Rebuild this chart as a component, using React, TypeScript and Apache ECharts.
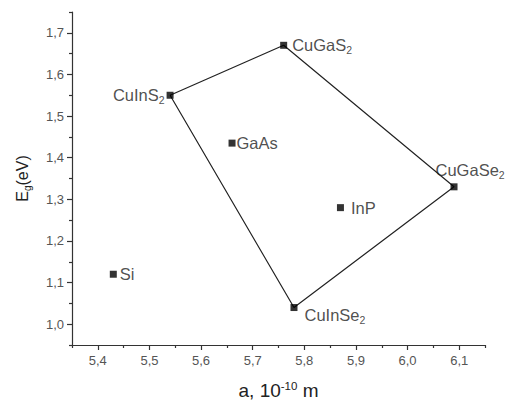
import React, { useEffect, useRef } from "react";
import * as echarts from "echarts";

// Compound names (base text and subscript)
const names = ["Si", "GaAs", "InP", "CuInS", "CuGaS", "CuGaSe", "CuInSe"];
const subs = ["", "", "", "2", "2", "2", "2"];
// Lattice constant a (10^-10 m)
const aValues = [5.43, 5.66, 5.87, 5.54, 5.76, 6.09, 5.78];
// Band gap Eg (eV)
const egValues = [1.12, 1.435, 1.28, 1.55, 1.67, 1.33, 1.04];
// Polygon order (indices into the arrays above), closed
const polygonOrder = [3, 4, 5, 6, 3];

// Tick values
const xMajorTicks = [5.4, 5.5, 5.6, 5.7, 5.8, 5.9, 6.0, 6.1];
const xMinorTicks = [5.35, 5.45, 5.55, 5.65, 5.75, 5.85, 5.95, 6.05, 6.15];
const yMajorTicks = [1.0, 1.1, 1.2, 1.3, 1.4, 1.5, 1.6, 1.7];
const yMinorTicks = [0.95, 1.05, 1.15, 1.25, 1.35, 1.45, 1.55, 1.65, 1.75];

const FONT = "'Liberation Sans', Arial, sans-serif";

const labelPlacement: Record<string, any> = {
  Si: { position: "right", distance: 3 },
  GaAs: { position: "right", distance: 1 },
  InP: { position: "right", distance: 7 },
  CuInS: { position: "left", distance: 2 },
  CuGaS: { position: "right", distance: 5 },
  CuGaSe: { position: [-15, -13], align: "left", verticalAlign: "middle" },
  CuInSe: { position: [14, 11], align: "left", verticalAlign: "middle" },
};

const richLabel = {
  b: { fontSize: 16.5, color: "#222", fontFamily: FONT },
  s: { fontSize: 10.5, color: "#222", fontFamily: FONT, padding: [9, 0, 0, 0] },
};

const fmt = (v: number) => v.toFixed(1).replace(".", ",");

export default function App() {
  const ref = useRef<HTMLDivElement>(null);
  useEffect(() => {
    if (!ref.current) return;
    const chart = echarts.init(ref.current, undefined, { renderer: "svg" });
    const scatterData = names.map((n, i) => ({
      value: [aValues[i], egValues[i]],
      name: n,
      label: {
        show: true,
        formatter: subs[i] ? `{b|${n}}{s|${subs[i]}}` : `{b|${n}}`,
        rich: richLabel,
        ...labelPlacement[n],
      },
    }));
    const lineData = polygonOrder.map((i) => [aValues[i], egValues[i]]);
    const axisLineStyle = { color: "#333", width: 1.2 };
    const commonX = {
      type: "value",
      min: 5.35,
      max: 6.15,
      splitLine: { show: false },
      axisLine: { show: true, onZero: false, lineStyle: axisLineStyle },
    };
    const commonY = {
      type: "value",
      min: 0.95,
      max: 1.75,
      splitLine: { show: false },
      axisLine: { show: true, onZero: false, lineStyle: axisLineStyle },
    };
    chart.setOption({
      animation: false,
      backgroundColor: "#fff",
      grid: { left: 72, right: 26, top: 12, bottom: 57, outerBoundsMode: "none", containLabel: false },
      xAxis: [
        {
          ...commonX,
          name: "{t|a, 10}{sup|-10}{t| m}",
          nameLocation: "middle",
          nameGap: 35,
          nameTextStyle: {
            fontSize: 19,
            color: "#222",
            fontFamily: FONT,
            rich: {
              t: { fontSize: 19, color: "#222", fontFamily: FONT },
              sup: { fontSize: 11.5, color: "#222", fontFamily: FONT, padding: [0, 0, 9, 0] },
            },
          },
          axisTick: { show: true, customValues: xMajorTicks, length: 5, lineStyle: axisLineStyle },
          axisLabel: {
            customValues: xMajorTicks,
            formatter: fmt,
            fontSize: 13,
            color: "#555",
            fontFamily: FONT,
            margin: 9,
          },
        },
        {
          ...commonX,
          position: "bottom",
          axisLine: { show: false },
          axisTick: { show: true, customValues: xMinorTicks, length: 3, lineStyle: axisLineStyle },
          axisLabel: { show: false },
        },
      ],
      yAxis: [
        {
          ...commonY,
          name: "{t|E}{sub|g}{t|(eV)}",
          nameLocation: "middle",
          nameGap: 40,
          nameRotate: 90,
          nameTextStyle: {
            fontSize: 16,
            color: "#222",
            fontFamily: FONT,
            rich: {
              t: { fontSize: 16, color: "#222", fontFamily: FONT },
              sub: { fontSize: 10, color: "#222", fontFamily: FONT, padding: [9, 0, 0, 0] },
            },
          },
          axisTick: { show: true, customValues: yMajorTicks, length: 5, lineStyle: axisLineStyle },
          axisLabel: {
            customValues: yMajorTicks,
            formatter: fmt,
            fontSize: 13,
            color: "#555",
            fontFamily: FONT,
            margin: 8,
          },
        },
        {
          ...commonY,
          position: "left",
          axisLine: { show: false },
          axisTick: { show: true, customValues: yMinorTicks, length: 3, lineStyle: axisLineStyle },
          axisLabel: { show: false },
        },
      ],
      series: [
        {
          type: "line",
          data: lineData,
          symbol: "none",
          lineStyle: { color: "#222", width: 1.2 },
          z: 1,
        },
        {
          type: "scatter",
          data: scatterData,
          symbol: "rect",
          symbolSize: 7,
          itemStyle: { color: "#000" },
          z: 2,
        },
      ],
    });
    return () => chart.dispose();
  }, []);
  return <div ref={ref} style={{ width: 511, height: 402, position: "absolute", left: 0, top: 0 }} />;
}
